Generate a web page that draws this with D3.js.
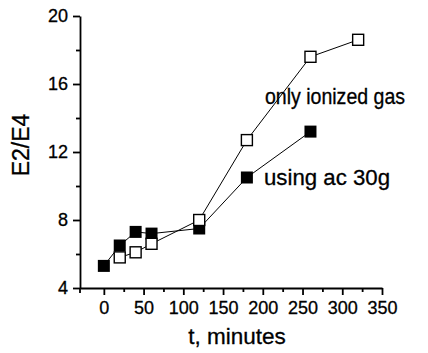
<!DOCTYPE html>
<html>
<head>
<meta charset="utf-8">
<script src="https://cdn.jsdelivr.net/npm/d3@7"></script>
<style>
  body { margin: 0; background: #fff; }
  svg { display: block; font-family: "Liberation Sans", Arial, sans-serif; }
  svg text { fill: #000; stroke: #000; stroke-width: 0.3; }
  .axis path, .axis line { stroke: #000; stroke-width: 1.8; }
  .axis text { font-size: 18px; }
</style>
</head>
<body>
<svg id="chart"></svg>
<script>
var width = 428, height = 353;

// time in minutes
var timeIonized = [20, 40, 60, 120, 180, 260, 320];
var ratioIonized = [5.8, 6.1, 6.6, 8.0, 12.7, 17.6, 18.6];
var timeAc = [0, 20, 40, 60, 120, 180, 260];
var ratioAc = [5.3, 6.5, 7.3, 7.2, 7.5, 10.5, 13.2];

var xTicks = [0, 50, 100, 150, 200, 250, 300, 350];
var xMinor = [25, 75, 125, 175, 225, 275, 325];
var yTicks = [4, 8, 12, 16, 20];
var yMinor = [6, 10, 14, 18];

var svg = d3.select('#chart')
    .attr('width', width)
    .attr('height', height);

var x = d3.scaleLinear().domain([-30, 350]).range([80, 382]);
var y = d3.scaleLinear().domain([4, 20]).range([288, 16]);

// minor ticks first so the major axis draws on top
svg.append('g')
    .attr('class', 'axis')
    .attr('transform', 'translate(0,' + y(4) + ')')
    .call(d3.axisBottom(x).tickValues(xMinor).tickFormat('').tickSize(4).tickSizeOuter(0))
    .select('.domain').remove();

svg.append('g')
    .attr('class', 'axis')
    .attr('transform', 'translate(0,' + y(4) + ')')
    .call(d3.axisBottom(x).tickValues(xTicks).tickSize(7).tickSizeOuter(0).tickPadding(6));

svg.append('g')
    .attr('class', 'axis')
    .attr('transform', 'translate(' + x(-30) + ',0)')
    .call(d3.axisLeft(y).tickValues(yMinor).tickFormat('').tickSize(4).tickSizeOuter(0))
    .select('.domain').remove();

svg.append('g')
    .attr('class', 'axis')
    .attr('transform', 'translate(' + x(-30) + ',0)')
    .call(d3.axisLeft(y).tickValues(yTicks).tickSize(7).tickSizeOuter(0).tickPadding(5));

// y axis runs a little past the x axis
svg.append('line')
    .attr('x1', x(-30)).attr('x2', x(-30))
    .attr('y1', y(4)).attr('y2', y(4) + 5)
    .attr('stroke', '#000').attr('stroke-width', 1.8);

var line = d3.line()
    .x(function(d) { return x(d[0]); })
    .y(function(d) { return y(d[1]); });

var ionized = d3.zip(timeIonized, ratioIonized);
var ac = d3.zip(timeAc, ratioAc);

svg.append('path')
    .datum(ionized)
    .attr('d', line)
    .attr('fill', 'none')
    .attr('stroke', '#000')
    .attr('stroke-width', 1);

svg.append('path')
    .datum(ac)
    .attr('d', line)
    .attr('fill', 'none')
    .attr('stroke', '#000')
    .attr('stroke-width', 1);

svg.selectAll('rect.ac')
    .data(ac)
    .enter()
    .append('rect')
    .attr('class', 'ac')
    .attr('x', function(d) { return x(d[0]) - 6; })
    .attr('y', function(d) { return y(d[1]) - 6; })
    .attr('width', 12)
    .attr('height', 12)
    .attr('fill', '#000');

svg.selectAll('rect.ion')
    .data(ionized)
    .enter()
    .append('rect')
    .attr('class', 'ion')
    .attr('x', function(d) { return x(d[0]) - 5.5; })
    .attr('y', function(d) { return y(d[1]) - 5.5; })
    .attr('width', 11)
    .attr('height', 11)
    .attr('fill', '#fff')
    .attr('stroke', '#000')
    .attr('stroke-width', 1.4);

// series labels, slightly condensed
svg.append('text')
    .attr('x', 265)
    .attr('y', 104)
    .attr('font-size', 21.5)
    .attr('textLength', 140)
    .attr('lengthAdjust', 'spacingAndGlyphs')
    .text('only ionized gas');

svg.append('text')
    .attr('x', 264)
    .attr('y', 185)
    .attr('font-size', 21.5)
    .attr('textLength', 126)
    .attr('lengthAdjust', 'spacingAndGlyphs')
    .text('using ac 30g');

svg.append('text')
    .attr('x', 237)
    .attr('y', 344)
    .attr('text-anchor', 'middle')
    .attr('font-size', 22.5)
    .text('t, minutes');

svg.append('text')
    .attr('transform', 'translate(29,145) rotate(-90)')
    .attr('text-anchor', 'middle')
    .attr('font-size', 23)
    .text('E2/E4');
</script>
</body>
</html>
